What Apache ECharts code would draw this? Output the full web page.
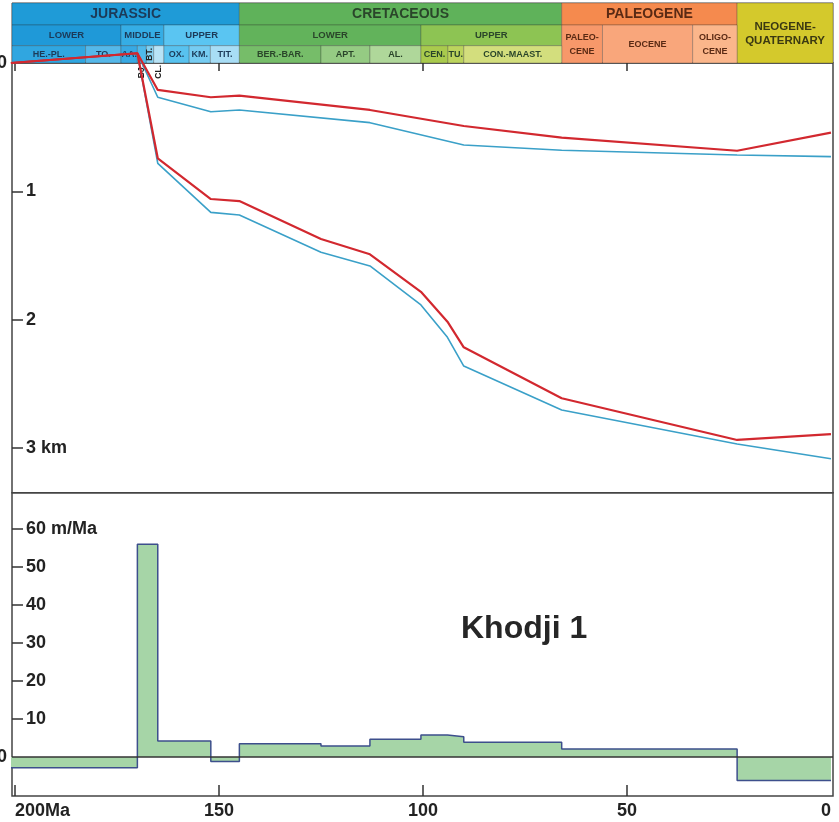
<!DOCTYPE html>
<html>
<head>
<meta charset="utf-8">
<script src="https://cdn.jsdelivr.net/npm/echarts@6/dist/echarts.min.js"></script>
<style>
  html, body { margin: 0; padding: 0; background: #ffffff; }
  #chart { width: 839px; height: 822px; }
</style>
</head>
<body>
<div id="chart"></div>
<script>
// ---------- Geological time scale (Ma) ----------
const headerNames = [
  'JURASSIC', 'CRETACEOUS', 'PALEOGENE', 'NEOGENE-\nQUATERNARY',
  'LOWER', 'MIDDLE', 'UPPER', 'LOWER', 'UPPER', 'PALEO-\nCENE', 'EOCENE', 'OLIGO-\nCENE',
  'HE.-PL.', 'TO.', 'AA.', 'BJ.', 'BT.', 'CL.', 'OX.', 'KM.', 'TIT.',
  'BER.-BAR.', 'APT.', 'AL.', 'CEN.', 'TU.', 'CON.-MAAST.'
];
const headerStart = [201, 145, 66, 23,  201, 174, 163.5, 145, 100.5, 66, 56, 33.9,
  201, 182.7, 174, 170, 167.8, 166, 163.5, 157.3, 152.1, 145, 125, 113, 100.5, 93.9, 90];
const headerEnd = [145, 66, 23, 0,  174, 163.5, 145, 100.5, 66, 56, 33.9, 23,
  182.7, 174, 170, 167.8, 166, 163.5, 157.3, 152.1, 145, 125, 113, 100.5, 93.9, 90, 66];
const headerRow = [0, 0, 0, 0,  1, 1, 1, 1, 1, 1, 1, 1,
  2, 2, 2, 2, 2, 2, 2, 2, 2, 2, 2, 2, 2, 2, 2];
const headerSpan = [1, 1, 1, 3,  1, 1, 1, 1, 1, 2, 2, 2,
  1, 1, 1, 1, 1, 1, 1, 1, 1, 1, 1, 1, 1, 1, 1];

// ---------- Burial curves: age (Ma) and depth (km) ----------
const upperAges   = [201, 170, 165, 152, 145, 113, 90, 66, 23, 0];
const upperDepthA = [0, -0.076, 0.210, 0.267, 0.255, 0.366, 0.491, 0.581, 0.684, 0.543];
const upperDepthB = [0, -0.076, 0.267, 0.380, 0.366, 0.465, 0.639, 0.680, 0.717, 0.730];

const lowerAges   = [201, 170, 165, 152, 145, 125, 113, 100.5, 94, 90, 66, 23, 0];
const lowerDepthA = [0, -0.076, 0.743, 1.060, 1.076, 1.372, 1.491, 1.783, 2.016, 2.216, 2.613, 2.938, 2.892];
const lowerDepthB = [0, -0.076, 0.782, 1.164, 1.185, 1.475, 1.582, 1.886, 2.138, 2.362, 2.705, 2.970, 3.084];

// ---------- Subsidence rate (m/Ma) per interval ----------
const rateFrom   = [201, 170, 165, 152, 145, 125, 113, 100.5, 94, 90, 66, 23];
const rateTo     = [170, 165, 152, 145, 125, 113, 100.5, 94, 90, 66, 23, 0];
const rateValues = [-2.8, 56, 4.2, -1.2, 3.5, 2.9, 4.7, 5.8, 5.3, 3.9, 2.1, -6.2];

// ---------- Axis ticks ----------
const ageTicks = [200, 150, 100, 50];
const ageLabelsMid = [150, 100, 50];
const ageLabelOldest = [200];
const ageLabelYoungest = [0];
const depthTicks = [1, 2, 3];
const rateTicks = [10, 20, 30, 40, 50, 60];
const zeroTick = [0];

// ---------- Styling ----------
const FONT = '"Liberation Sans", Arial, Helvetica, sans-serif';
const cellFill = [
  '#1f9bd7', '#5fb25a', '#f58a4e', '#d4c92c',
  '#1f99d8', '#35ade5', '#5ac5f2', '#62b35b', '#8dc453', '#f7986a', '#f9a67b', '#fbb68b',
  '#30a6e0', '#55b8e9', '#38a9e3', '#4fb9ea', '#84d1f2', '#b8e3f6', '#58c2ef', '#76ccf2', '#a8ddf5',
  '#76bd69', '#95cb83', '#afd79a', '#a9ca4d', '#bcd45d', '#d3de7d'
];
const inkJ = '#1c3a58', inkK = '#2a452a', inkP = '#5a2a14', inkN = '#3b3912';
const cellInk = [
  inkJ, inkK, inkP, inkN,
  inkJ, inkJ, inkJ, inkK, inkK, inkP, inkP, inkP,
  inkJ, inkJ, inkJ, '#222', '#222', '#222', inkJ, inkJ, inkJ,
  inkK, inkK, inkK, inkK, inkK, inkK
];
const verticalLabel = { 'BJ.': 'below', 'BT.': 'inside', 'CL.': 'below' };
const ROW_EDGES = [0, 22, 42.7, 60];
const X_MIN = -0.5, X_MAX = 200.73;
const RED = '#d2282f', BLUE = '#3aa0c8';

function renderHeader(params, api) {
  const i = api.value(0);
  const cs = params.coordSys;
  const clampX = v => Math.max(cs.x, Math.min(cs.x + cs.width, v));
  let xa = clampX(api.coord([api.value(1), 0])[0]);
  let xb = clampX(api.coord([api.value(2), 0])[0]);
  if (api.value(2) <= 0) xb = cs.x + cs.width;
  const row = api.value(3), span = api.value(4);
  const ya = api.coord([0, ROW_EDGES[row]])[1];
  const yb = api.coord([0, ROW_EDGES[row + span]])[1];
  const name = headerNames[i];
  let size = row === 0 ? 14 : (row === 1 ? 9.5 : 9);
  if (span === 3) size = 11.5;
  if (span === 2) size = 9;
  const children = [{
    type: 'rect',
    shape: { x: xa, y: ya, width: xb - xa, height: yb - ya },
    style: { fill: cellFill[i], stroke: 'rgba(40,40,40,0.35)', lineWidth: 0.8 }
  }];
  const mode = verticalLabel[name];
  const cx = (xa + xb) / 2;
  if (mode === 'inside') {
    children.push({
      type: 'text', x: cx, y: (ya + yb) / 2, rotation: Math.PI / 2, z2: 10,
      style: { text: name, fill: cellInk[i], font: 'bold 8.5px ' + FONT, align: 'center', verticalAlign: 'middle' }
    });
  } else if (mode === 'below') {
    children.push({
      type: 'text', x: cx, y: yb + 2, rotation: Math.PI / 2, z2: 10,
      style: { text: name, fill: cellInk[i], font: 'bold 8.5px ' + FONT, align: 'right', verticalAlign: 'middle' }
    });
  } else {
    children.push({
      type: 'text', x: cx, y: (ya + yb) / 2 + 0.5, z2: 10,
      style: { text: name, fill: cellInk[i], font: 'bold ' + size + 'px ' + FONT,
               align: 'center', verticalAlign: 'middle', lineHeight: 14 }
    });
  }
  return { type: 'group', children: children };
}

const zip = (a, b) => a.map((v, k) => [v, b[k]]);
const rateSteps = [];
rateValues.forEach((r, k) => { rateSteps.push([rateFrom[k], r]); rateSteps.push([rateTo[k], r]); });

const labelStyle = { color: '#222', fontWeight: 'bold', fontSize: 18, fontFamily: FONT };
const noLine = () => ({ show: false, onZero: false });
const hidden = () => ({ show: false });
const baseX = () => ({ type: 'value', min: X_MIN, max: X_MAX, inverse: true,
  splitLine: hidden(), axisLine: noLine(), axisTick: hidden(), axisLabel: hidden() });
const tickLine = { color: '#333', width: 1.5 };
const gridBase = { left: 12, right: 6, show: true, containLabel: false, outerBoundsMode: 'none' };

const option = {
  animation: false,
  title: {
    text: 'Khodji 1', left: 461, top: 613, padding: 0,
    textStyle: { fontSize: 32, fontWeight: 'bold', color: '#262626', fontFamily: FONT }
  },
  grid: [
    Object.assign({}, gridBase, { top: 3, height: 60, borderColor: '#666', borderWidth: 1 }),
    Object.assign({}, gridBase, { top: 63, height: 429.7, borderColor: '#444', borderWidth: 1.5 }),
    Object.assign({}, gridBase, { top: 492.7, bottom: 26, borderColor: '#444', borderWidth: 1.5 })
  ],
  xAxis: [
    Object.assign(baseX(), { gridIndex: 0 }),
    Object.assign(baseX(), { gridIndex: 1, position: 'top',
      axisTick: { show: true, inside: true, length: 8, customValues: ageTicks, lineStyle: tickLine } }),
    Object.assign(baseX(), { gridIndex: 2, position: 'bottom',
      axisTick: { show: true, inside: true, length: 11, customValues: ageTicks, lineStyle: tickLine },
      axisLabel: Object.assign({ show: true, margin: 6, customValues: ageLabelsMid }, labelStyle) }),
    Object.assign(baseX(), { gridIndex: 2, position: 'bottom',
      axisLabel: Object.assign({ show: true, margin: 6, align: 'left', customValues: ageLabelOldest,
        formatter: v => v + 'Ma' }, labelStyle) }),
    Object.assign(baseX(), { gridIndex: 2, position: 'bottom',
      axisLabel: Object.assign({ show: true, margin: 6, align: 'right', customValues: ageLabelYoungest }, labelStyle) })
  ],
  yAxis: [
    { type: 'value', gridIndex: 0, min: 0, max: 60, inverse: true, show: false },
    { type: 'value', gridIndex: 1, position: 'left', min: 0, max: 3.349, inverse: true,
      splitLine: hidden(), axisLine: noLine(),
      axisTick: { show: true, inside: true, length: 11, customValues: depthTicks, lineStyle: tickLine },
      axisLabel: Object.assign({ show: true, inside: true, margin: 14, customValues: depthTicks,
        formatter: v => (v === 3 ? '3 km' : String(v)) }, labelStyle) },
    { type: 'value', gridIndex: 1, position: 'left', min: 0, max: 3.349, inverse: true,
      splitLine: hidden(), axisLine: noLine(), axisTick: hidden(),
      axisLabel: Object.assign({ show: true, margin: 5, customValues: zeroTick }, labelStyle) },
    { type: 'value', gridIndex: 2, position: 'left', min: -10.26, max: 69.55,
      splitLine: hidden(), axisLine: noLine(),
      axisTick: { show: true, inside: true, length: 11, customValues: rateTicks, lineStyle: tickLine },
      axisLabel: Object.assign({ show: true, inside: true, margin: 14, customValues: rateTicks,
        formatter: v => (v === 60 ? '60 m/Ma' : String(v)) }, labelStyle) },
    { type: 'value', gridIndex: 2, position: 'left', min: -10.26, max: 69.55,
      splitLine: hidden(), axisLine: noLine(), axisTick: hidden(),
      axisLabel: Object.assign({ show: true, margin: 5, customValues: zeroTick }, labelStyle) }
  ],
  series: [
    {
      type: 'custom', xAxisIndex: 0, yAxisIndex: 0, z: 2, silent: true,
      renderItem: renderHeader,
      data: headerNames.map((n, k) => [k, headerStart[k], headerEnd[k], headerRow[k], headerSpan[k]])
    },
    { type: 'line', xAxisIndex: 1, yAxisIndex: 1, z: 5, clip: false, symbol: 'none', silent: true,
      data: zip(upperAges, upperDepthB), lineStyle: { color: BLUE, width: 1.6 } },
    { type: 'line', xAxisIndex: 1, yAxisIndex: 1, z: 5, clip: false, symbol: 'none', silent: true,
      data: zip(lowerAges, lowerDepthB), lineStyle: { color: BLUE, width: 1.6 } },
    { type: 'line', xAxisIndex: 1, yAxisIndex: 1, z: 6, clip: false, symbol: 'none', silent: true,
      data: zip(upperAges, upperDepthA), lineStyle: { color: RED, width: 2.2 } },
    { type: 'line', xAxisIndex: 1, yAxisIndex: 1, z: 6, clip: false, symbol: 'none', silent: true,
      data: zip(lowerAges, lowerDepthA), lineStyle: { color: RED, width: 2.2 } },
    {
      type: 'line', xAxisIndex: 2, yAxisIndex: 3, z: 4, symbol: 'none', silent: true,
      data: rateSteps,
      lineStyle: { color: '#3d4f8c', width: 1.5 },
      areaStyle: { origin: 0, color: '#a6d5a7', opacity: 1 },
      markLine: {
        silent: true, symbol: 'none', label: { show: false },
        lineStyle: { color: '#333', width: 1.5, type: 'solid' },
        data: [{ yAxis: 0 }]
      }
    }
  ]
};

const chart = echarts.init(document.getElementById('chart'), null, { renderer: 'canvas' });
chart.setOption(option);
</script>
</body>
</html>
